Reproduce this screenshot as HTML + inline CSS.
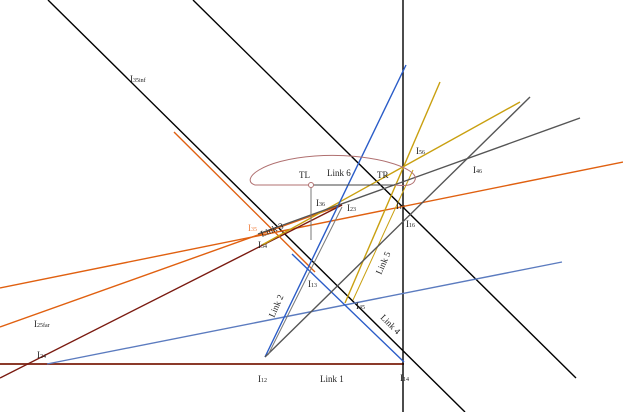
<!DOCTYPE html>
<html><head><meta charset="utf-8"><style>
html,body{margin:0;padding:0;background:#fff;width:623px;height:412px;overflow:hidden}
svg text{font-family:"Liberation Serif",serif;font-size:9px;fill:#222}
</style></head><body>
<svg width="623" height="412" viewBox="0 0 623 412">
<g fill="none" stroke-width="1.4">
<line x1="0" y1="364" x2="404" y2="364" stroke="#8b3a2a" stroke-width="2"/>
<line x1="48" y1="0" x2="465" y2="412" stroke="#000"/>
<line x1="193" y1="0" x2="576" y2="378" stroke="#000"/>
<line x1="403" y1="0" x2="403" y2="412" stroke="#000"/>
<line x1="47" y1="364" x2="562" y2="262" stroke="#5b7bbf"/>
<line x1="0" y1="288" x2="623" y2="162" stroke="#e06010"/>
<line x1="0" y1="327" x2="342" y2="205" stroke="#e06010"/>
<line x1="0" y1="378" x2="342" y2="205" stroke="#7a1a10"/>
<line x1="174" y1="132" x2="315" y2="272" stroke="#e06010"/>
<line x1="262" y1="245" x2="520" y2="102" stroke="#c9a010"/>
<line x1="345" y1="303" x2="440" y2="82" stroke="#c9a010"/>
<line x1="353" y1="300" x2="413" y2="170" stroke="#c9a010" stroke-width="1"/>
<line x1="265" y1="357" x2="406" y2="65" stroke="#2a5cc8"/>
<line x1="292" y1="254" x2="404" y2="362" stroke="#2a5cc8"/>
<line x1="265" y1="357" x2="530" y2="97" stroke="#555"/>
<line x1="258" y1="234" x2="580" y2="118" stroke="#555"/>
<line x1="268" y1="355" x2="342" y2="207" stroke="#777" stroke-width="1"/>
<line x1="311" y1="185" x2="311" y2="240" stroke="#777" stroke-width="1"/>
<path d="M255,185 C240,180 260,160 315,156 C370,152 420,168 415,180 C413,186 405,186 395,185 L255,185 Z" stroke="#b07070" stroke-width="1"/>
<line x1="311" y1="185" x2="395" y2="185" stroke="#444" stroke-width="1"/>
</g>
<circle cx="311" cy="185" r="2.5" fill="#fff" stroke="#b07070"/>
<text x="130" y="82">I<tspan font-size="6">35inf</tspan></text>
<text x="299" y="178">TL</text>
<text x="327" y="176">Link 6</text>
<text x="377" y="178">TR</text>
<text x="416" y="154">I<tspan font-size="6">56</tspan></text>
<text x="473" y="173">I<tspan font-size="6">46</tspan></text>
<text x="316" y="206">I<tspan font-size="6">36</tspan></text>
<text x="347" y="211">I<tspan font-size="6">23</tspan></text>
<text x="396" y="209">I<tspan font-size="6">15</tspan></text>
<text x="406" y="227">I<tspan font-size="6">16</tspan></text>
<text x="248" y="231" style="fill:#f08040">I<tspan font-size="6">35</tspan></text>
<text x="258" y="248">I<tspan font-size="6">34</tspan></text>
<text transform="translate(262,237) rotate(-22)">Link 3</text>
<text x="308" y="287">I<tspan font-size="6">13</tspan></text>
<text transform="translate(381,275) rotate(-66)">Link 5</text>
<text x="356" y="309">I<tspan font-size="6">45</tspan></text>
<text transform="translate(380,318) rotate(45)">Link 4</text>
<text transform="translate(274,318) rotate(-66)">Link 2</text>
<text x="34" y="327">I<tspan font-size="6">25far</tspan></text>
<text x="37" y="358">I<tspan font-size="6">24</tspan></text>
<text x="258" y="382">I<tspan font-size="6">12</tspan></text>
<text x="320" y="382">Link 1</text>
<text x="400" y="381">I<tspan font-size="6">14</tspan></text>
</svg>
</body></html>
